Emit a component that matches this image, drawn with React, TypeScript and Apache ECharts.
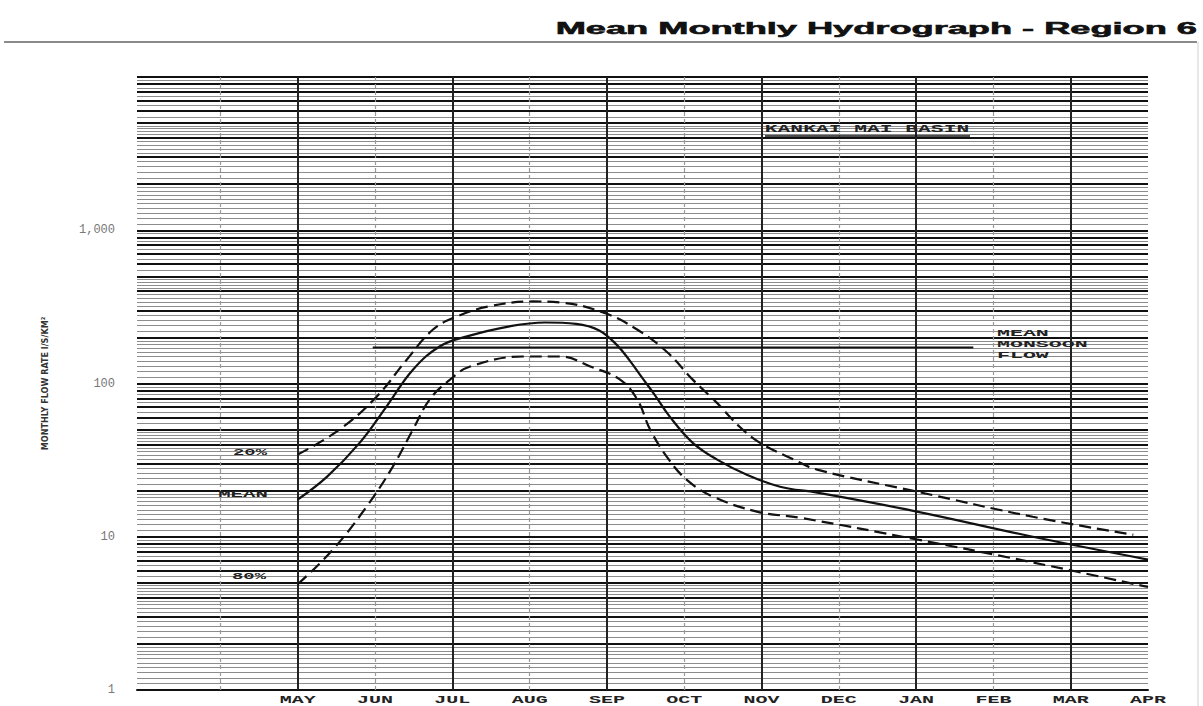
import React, { useEffect, useRef } from "react";
import * as echarts from "echarts";

// ---- data ----
const MONTHS = ["MAY", "JUN", "JUL", "AUG", "SEP", "OCT", "NOV", "DEC", "JAN", "FEB", "MAR", "APR"];
const MONTH_POS = [0, 1, 2, 3, 4, 5, 6, 7, 8, 9, 10, 11];
const Y_TICKS = [1, 10, 100, 1000, 10000];

const P20_X = [0, 0.54, 1.02, 1.41, 1.75, 2.06, 2.48, 3.04, 3.39, 3.95, 4.39, 4.78, 5.11, 5.42, 5.72, 5.98, 6.41, 6.72, 8.01, 9.51, 10.81];
const P20_Y = [34.4, 50, 82, 143, 225, 274, 319, 343, 338, 291, 225, 160, 106, 75, 52, 41, 32, 27.4, 19.7, 13.5, 10.3];

const MEAN_X = [0, 0.38, 0.8, 1.15, 1.49, 1.84, 2.19, 2.74, 3.2, 3.6, 3.9, 4.13, 4.3, 4.45, 4.62, 4.81, 5.11, 5.42, 5.81, 6.24, 6.72, 8.01, 9.51, 11];
const MEAN_Y = [17.5, 24.7, 41, 71, 123, 175, 203, 236, 250, 245, 222, 178, 140, 110, 84, 61, 41, 32, 25.4, 21.2, 19.4, 14.6, 10, 7.1];

const P80_X = [0, 0.45, 0.89, 1.23, 1.49, 1.71, 1.97, 2.23, 2.91, 3.39, 3.82, 4.17, 4.39, 4.56, 4.78, 5.03, 5.37, 5.94, 6.5, 8.01, 9.51, 11];
const P80_Y = [4.9, 8.2, 15.7, 28.7, 50, 79, 106, 129, 150, 150, 127, 106, 79, 50, 33, 23.6, 18.3, 14.6, 13.3, 9.6, 6.8, 4.7];

const MONSOON_FLOW = 172;
const MONSOON_X = [0.97, 8.74];

const X_MIN = -2.08;
const X_MAX = 11;

function zip(xs: number[], ys: number[]) {
  return xs.map((x, i) => [x, ys[i]]);
}

function gridValues() {
  const heavy: number[] = [];
  const light: number[] = [];
  for (let d = 0; d < 4; d++) {
    const base = Math.pow(10, d);
    for (let k = 1; k <= 9; k++) heavy.push(k * base);
    for (let s = 1.1; s < 1.95; s += 0.1) light.push(+(s * base).toFixed(4));
    for (let s = 2.2; s < 4.95; s += 0.2) {
      const r = Math.round(s * 10) / 10;
      if (Math.abs(r - Math.round(r)) > 0.01) light.push(+(r * base).toFixed(4));
    }
    for (let s = 5.5; s < 9.95; s += 1) light.push(+(s * base).toFixed(4));
  }
  heavy.push(10000);
  return { heavy, light };
}

export default function App() {
  const ref = useRef<HTMLDivElement>(null);

  useEffect(() => {
    document.body.style.margin = "0";
    const chart = echarts.init(ref.current!, null, { renderer: "svg" });
    const { heavy, light } = gridValues();
    const lineBase = {
      type: "line",
      data: [[X_MIN, 1]],
      showSymbol: false,
      lineStyle: { opacity: 0 },
      silent: true,
      z: 1,
    };
    const mlBase = { silent: true, symbol: ["none", "none"], label: { show: false }, emphasis: { disabled: true }, animation: false };

    chart.setOption({
      animation: false,
      backgroundColor: "#ffffff",
      grid: { left: 137, right: 55, top: 77, bottom: 16 },
      xAxis: {
        type: "value",
        min: X_MIN,
        max: X_MAX,
        axisLine: { show: true, lineStyle: { color: "#111", width: 2 } },
        axisTick: { show: false },
        axisLabel: { show: false },
        splitLine: { show: false },
      },
      yAxis: {
        type: "log",
        logBase: 10,
        min: 1,
        max: 10000,
        name: "MONTHLY FLOW RATE l/S/KM²",
        nameLocation: "middle",
        nameGap: 88,
        nameTextStyle: {
          fontFamily: "'Liberation Sans Narrow', 'DejaVu Sans Condensed', sans-serif",
          fontSize: 9,
          color: "#333",
          fontWeight: "bold",
        },
        axisLine: { show: true, lineStyle: { color: "#111", width: 2 } },
        axisTick: { show: true, length: 7, lineStyle: { color: "#111", width: 1.5 } },
        axisLabel: {
          margin: 22,
          fontFamily: "'Liberation Mono', monospace",
          fontSize: 12,
          color: "#777",
          formatter: (v: number) => (Y_TICKS.indexOf(v) >= 0 && v < 10000 ? (v === 1000 ? "1,000" : String(v)) : ""),
        },
        splitLine: { show: false },
      },
      series: [
        {
          ...lineBase,
          markLine: { ...mlBase, lineStyle: { color: "#8c8c8c", width: 1, type: "solid" }, data: light.map((v) => ({ yAxis: v })) },
        },
        {
          ...lineBase,
          markLine: { ...mlBase, lineStyle: { color: "#111", width: 1.8, type: "solid" }, data: heavy.map((v) => ({ yAxis: v })) },
        },
        {
          ...lineBase,
          markLine: { ...mlBase, lineStyle: { color: "#9a9a9a", width: 1.2, type: [4, 3] }, data: [-1, 1, 3, 5, 7, 9].map((v) => ({ xAxis: v })) },
        },
        {
          ...lineBase,
          markLine: { ...mlBase, lineStyle: { color: "#222", width: 2, type: "solid" }, data: [0, 2, 4, 6, 8, 10].map((v) => ({ xAxis: v })) },
        },
        {
          name: "20%",
          type: "line",
          data: zip(P20_X, P20_Y),
          smooth: 0.4,
          showSymbol: false,
          z: 5,
          lineStyle: { color: "#111", width: 2.2, type: [12, 6] },
        },
        {
          name: "MEAN",
          type: "line",
          data: zip(MEAN_X, MEAN_Y),
          smooth: 0.4,
          showSymbol: false,
          z: 5,
          lineStyle: { color: "#111", width: 2.2, type: "solid" },
        },
        {
          name: "80%",
          type: "line",
          data: zip(P80_X, P80_Y),
          smooth: 0.4,
          showSymbol: false,
          z: 5,
          lineStyle: { color: "#111", width: 2.2, type: [12, 6] },
        },
        {
          name: "MEAN MONSOON FLOW",
          type: "line",
          data: MONSOON_X.map((x) => [x, MONSOON_FLOW]),
          showSymbol: false,
          z: 5,
          lineStyle: { color: "#111", width: 2 },
        },
      ],
    });

    const monoBold = (size: number) => `bold ${size}px 'Liberation Mono', 'DejaVu Sans Mono', monospace`;
    const label = (text: string, x: number, y: number, sx: number, align = "center", size = 9) => ({
      type: "text",
      x,
      y,
      scaleX: sx,
      z: 10,
      style: { text, font: monoBold(size), fill: "#222", align, verticalAlign: "middle" },
    });

    const graphics: any[] = [
      {
        type: "text",
        x: 1197,
        y: 28,
        scaleX: 2.13,
        style: {
          text: "Mean Monthly Hydrograph - Region 6",
          font: "bold 17px 'Liberation Sans', Arial, sans-serif",
          fill: "#111",
          stroke: "#111",
          lineWidth: 0.6,
          align: "right",
          verticalAlign: "middle",
        },
      },
      { type: "line", shape: { x1: 4, y1: 42, x2: 1197, y2: 42 }, style: { stroke: "#8a8a8a", lineWidth: 2 } },
      { type: "line", shape: { x1: 1198, y1: 42, x2: 1198, y2: 706 }, style: { stroke: "#d0d0d0", lineWidth: 1 } },
      label("KANKAI MAI BASIN", 867, 129, 2.13, "center", 10),
      { type: "line", z: 10, shape: { x1: 765, y1: 136, x2: 970, y2: 136 }, style: { stroke: "#111", lineWidth: 1.5 } },
      label("20%", 250, 453, 2.1),
      label("MEAN", 243, 495, 2.3),
      label("80%", 249, 577, 2.1),
      label("MEAN", 997, 334, 2.4, "left"),
      label("MONSOON", 997, 345, 2.4, "left"),
      label("FLOW", 997, 356, 2.4, "left"),
    ];
    MONTHS.forEach((m, i) => {
      const px = chart.convertToPixel({ xAxisIndex: 0 }, MONTH_POS[i]) as number;
      graphics.push(label(m, px, 700, 2.0, "center", 10));
    });
    chart.setOption({ graphic: graphics });

    return () => chart.dispose();
  }, []);

  return <div ref={ref} style={{ width: 1203, height: 706 }} />;
}
